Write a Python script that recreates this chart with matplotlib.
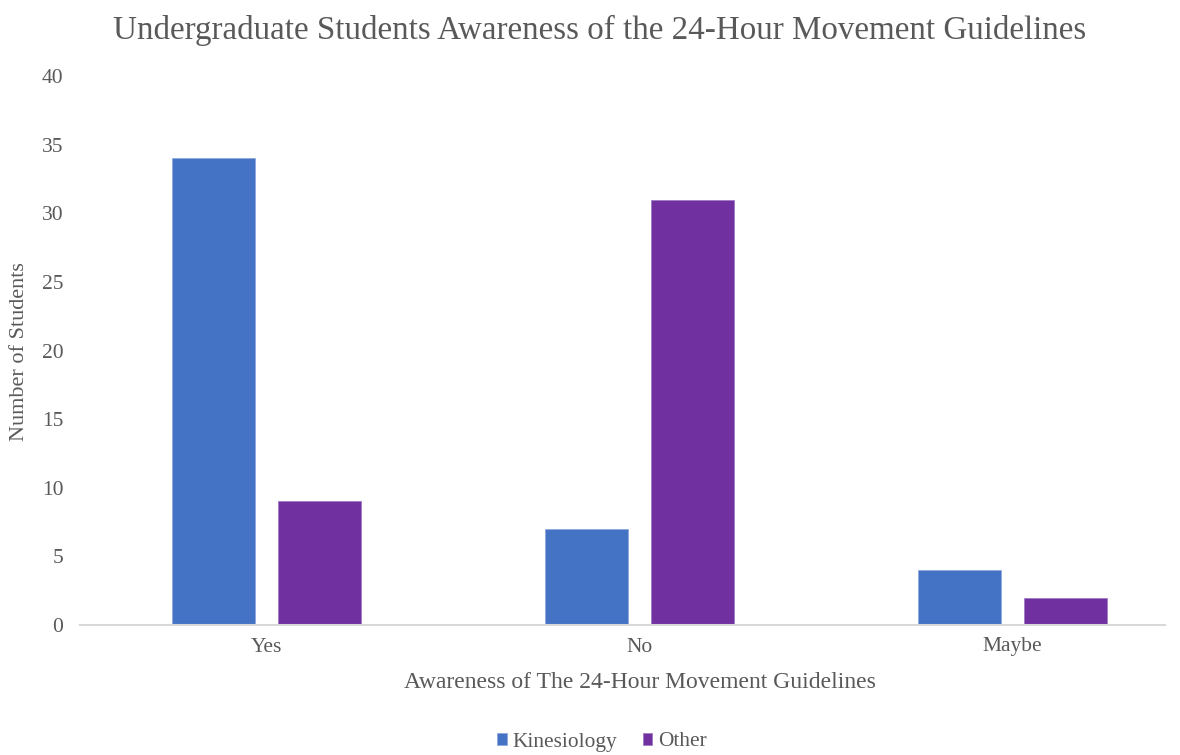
import matplotlib
matplotlib.use("Agg")
import matplotlib.pyplot as plt
import numpy as np

categories = ["Yes", "No", "Maybe"]
kinesiology = [34, 7, 4]
other = [9, 31, 2]
series_names = ["Kinesiology", "Other"]
colors = ["#4472C4", "#7030A0"]
yticks = [0, 5, 10, 15, 20, 25, 30, 35, 40]

plt.rcParams['font.family'] = ['Liberation Serif', 'DejaVu Serif']
txt = "#595959"

fig = plt.figure(figsize=(11.8, 7.55), dpi=100)
W, H = 1180, 755
ax = fig.add_axes([80 / W, 1 - 625 / H, 1085 / W, (625 - 76) / H])

x = np.arange(len(categories))
bw = 0.223
off = 0.1427
ax.bar(x - off, kinesiology, width=bw, color=colors[0], label=series_names[0],
       edgecolor="#8FAADC", linewidth=0.6)
ax.bar(x + off, other, width=bw, color=colors[1], label=series_names[1],
       edgecolor="#A07CC5", linewidth=0.6)

ax.set_xlim(-0.5, -0.5 + 1085 / 373)
ax.set_ylim(0, 40)
ax.set_yticks(yticks)
ax.set_xticks(x)
ax.set_xticklabels(categories)
for s in ["top", "right", "left"]:
    ax.spines[s].set_visible(False)
ax.spines["bottom"].set_color("#D9D9D9")
ax.spines["bottom"].set_linewidth(1.5)
ax.tick_params(axis="both", length=0, labelsize=15.5, colors=txt)
ax.tick_params(axis="y", pad=12)
ax.tick_params(axis="x", pad=9)

fig.text(640 / W, 1 - 683 / H, "Awareness of The 24-Hour Movement Guidelines", fontsize=17,
         color=txt, ha="center", va="center")
fig.text(20 / W, 1 - 352 / H, "Number of Students", rotation=90, fontsize=16,
         color=txt, ha="center", va="center")
fig.text(600 / W, 1 - 30 / H, "Undergraduate Students Awareness of the 24-Hour Movement Guidelines",
         fontsize=23.8, color=txt, ha="center", va="center")

leg = fig.legend(loc="center", bbox_to_anchor=(602 / W, 1 - 742 / H), ncol=2, frameon=False,
                 fontsize=15.4, handlelength=0.45, handleheight=0.45, handletextpad=0.25,
                 columnspacing=1.2)
for t in leg.get_texts():
    t.set_color(txt)

fig.savefig("out.png", dpi=100)
